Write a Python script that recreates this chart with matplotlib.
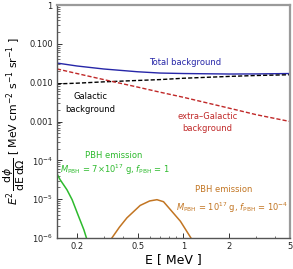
"""
Gamma-ray background spectra vs. PBH emission, recreated with matplotlib.
"""

import matplotlib
matplotlib.use('Agg')
import matplotlib.pyplot as plt
from matplotlib.ticker import FixedLocator, LogLocator, NullFormatter

# Galactic / extra-Galactic / total background (MeV cm^-2 s^-1 sr^-1)
bg_energy = [0.148, 0.2, 0.3, 0.5, 0.7, 1.0, 2.0, 3.0, 5.0]
galactic = [0.0093, 0.0097, 0.0105, 0.0114, 0.0120, 0.0130, 0.0145, 0.0153, 0.0160]
extra_galactic = [0.0226, 0.0172, 0.0120, 0.0077, 0.0057, 0.0042, 0.0022, 0.0015, 0.0010]
total = [0.0320, 0.0269, 0.0225, 0.0191, 0.0177, 0.0172, 0.0167, 0.0168, 0.0172]

# PBH emission, M = 7e17 g, f = 1
pbh1_energy = [0.140, 0.148, 0.155, 0.172, 0.186, 0.203, 0.222, 0.231, 0.245]
pbh1_flux = [6.5e-5, 4.5e-5, 3.2e-5, 1.75e-5, 9.7e-6, 4.0e-6, 1.64e-6, 1.0e-6, 5e-7]

# PBH emission, M = 1e17 g, f = 1e-4
pbh2_energy = [0.32, 0.339, 0.38, 0.4255, 0.52, 0.60, 0.67, 0.74, 0.82, 0.955, 1.12, 1.18]
pbh2_flux = [6e-7, 1.0e-6, 1.9e-6, 3.3e-6, 6.9e-6, 9.0e-6, 9.7e-6, 8.6e-6, 5.4e-6, 2.7e-6, 1.0e-6, 6e-7]

x_ticks = [0.2, 0.5, 1, 2, 5]
x_tick_labels = ['0.2', '0.5', '1', '2', '5']
y_ticks = [1e-6, 1e-5, 1e-4, 1e-3, 1e-2, 1e-1, 1]
y_tick_labels = ['$10^{-6}$', '$10^{-5}$', '$10^{-4}$', '0.001', '0.010', '0.100', '1']

blue = '#2626a8'
red = '#c02828'
green = '#2dba2d'
orange = '#c27522'

fig = plt.figure(figsize=(2.93, 2.69), dpi=100)
ax = fig.add_axes([0.1945, 0.1152, 0.7953, 0.8662])

ax.plot(bg_energy, total, color=blue, lw=1.0)
ax.plot(bg_energy, galactic, color='black', lw=1.0, ls=(0, (3, 1.5)))
ax.plot(bg_energy, extra_galactic, color=red, lw=1.0, ls=(0, (3, 1.5)))
ax.plot(pbh1_energy, pbh1_flux, color=green, lw=1.1)
ax.plot(pbh2_energy, pbh2_flux, color=orange, lw=1.1)

ax.set_xscale('log')
ax.set_yscale('log')
ax.set_xlim(0.148, 5)
ax.set_ylim(1e-6, 1)

ax.xaxis.set_major_locator(FixedLocator(x_ticks))
ax.set_xticklabels(x_tick_labels)
ax.xaxis.set_minor_locator(LogLocator(base=10, subs=range(1, 10)))
ax.xaxis.set_minor_formatter(NullFormatter())
ax.yaxis.set_major_locator(FixedLocator(y_ticks))
ax.set_yticklabels(y_tick_labels)
ax.yaxis.set_minor_locator(LogLocator(base=10, subs=range(2, 10), numticks=20))
ax.yaxis.set_minor_formatter(NullFormatter())

ax.tick_params(which='both', direction='in', top=False, right=False,
               labelsize=6, pad=3, color='#333333', labelcolor='#222222')
ax.tick_params(which='major', length=3.5, width=0.7)
ax.tick_params(which='minor', length=1.8, width=0.5)

for side in ['top', 'right']:
    ax.spines[side].set_color('#9a9a9a')
    ax.spines[side].set_linewidth(1.6)
for side in ['left', 'bottom']:
    ax.spines[side].set_color('#555555')
    ax.spines[side].set_linewidth(1.0)

ax.set_xlabel('E [ MeV ]', fontsize=9, labelpad=1)
ax.set_ylabel(r'$E^2\,\dfrac{\mathrm{d}\phi}{\mathrm{dE\,d\Omega}}$ [ MeV cm$^{-2}$ s$^{-1}$ sr$^{-1}$ ]',
              fontsize=7.8, va='center')
# keep the tall fraction inside the figure, left of the tick labels
ax.yaxis.set_label_coords(-0.183, 0.5)

# Curve annotations
ax.text(1.03, 0.034, 'Total background', color=blue, fontsize=6, ha='center', va='center')
ax.text(0.244, 0.003, 'Galactic\nbackground', color='black', fontsize=6,
        ha='center', va='center', linespacing=1.5)
ax.text(1.43, 0.00093, 'extra\u2013Galactic\nbackground', color=red, fontsize=6,
        ha='center', va='center', linespacing=1.5)
ax.text(0.348, 1.3e-4, 'PBH emission', color=green, fontsize=6, ha='center', va='center')
ax.text(0.356, 5.7e-5, r'$M_{\mathrm{PBH}}$ = 7$\times$10$^{17}$ g, $f_{\mathrm{PBH}}$ = 1',
        color=green, fontsize=6, ha='center', va='center')
ax.text(1.83, 1.75e-5, 'PBH emission', color=orange, fontsize=6, ha='center', va='center')
ax.text(2.07, 6.0e-6, r'$M_{\mathrm{PBH}}$ = 10$^{17}$ g, $f_{\mathrm{PBH}}$ = 10$^{-4}$',
        color=orange, fontsize=6, ha='center', va='center')

fig.savefig('out.png', dpi=100)
